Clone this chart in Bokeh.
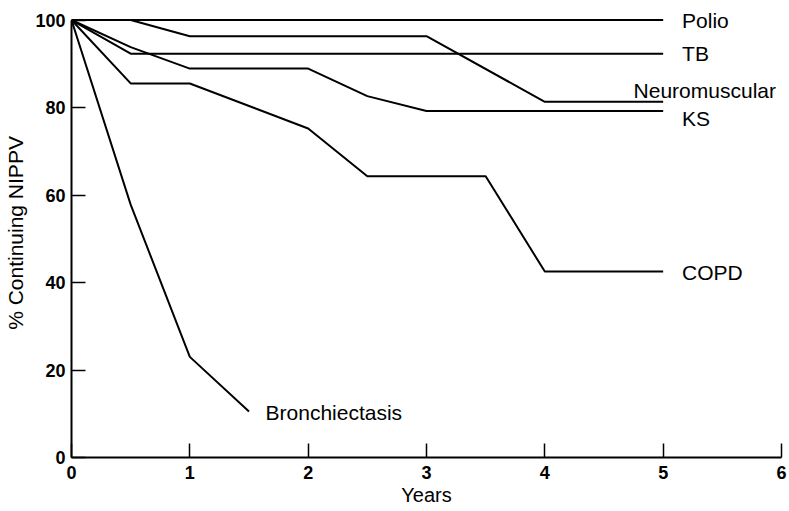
from bokeh.plotting import figure
from bokeh.models import Range1d, FixedTicker, ColumnDataSource, LabelSet
from bokeh.core.properties import value
from bokeh.embed import file_html
from bokeh.resources import INLINE

# ---- data ----
series_names = ["Polio", "TB", "Neuromuscular", "KS", "COPD", "Bronchiectasis"]

polio_years = [0, 5]
polio_pct = [100, 100]

tb_years = [0, 0.5, 5]
tb_pct = [100, 92.3, 92.3]

neuro_years = [0, 0.5, 1, 3, 4, 5]
neuro_pct = [100, 100, 96.3, 96.3, 81.3, 81.3]

ks_years = [0, 0.5, 1, 2, 2.5, 3, 5]
ks_pct = [100, 93.8, 88.9, 88.9, 82.6, 79.2, 79.2]

copd_years = [0, 0.5, 1, 2, 2.5, 3.5, 4, 5]
copd_pct = [100, 85.5, 85.5, 75.2, 64.3, 64.3, 42.5, 42.5]

bronch_years = [0, 0.5, 1, 1.5]
bronch_pct = [100, 57.8, 23.0, 10.5]

x_ticks = [0, 1, 2, 3, 4, 5, 6]
y_ticks = [0, 20, 40, 60, 80, 100]
x_title = "Years"
y_title = "% Continuing NIPPV"

series = {
    "Polio": (polio_years, polio_pct),
    "TB": (tb_years, tb_pct),
    "Neuromuscular": (neuro_years, neuro_pct),
    "KS": (ks_years, ks_pct),
    "COPD": (copd_years, copd_pct),
    "Bronchiectasis": (bronch_years, bronch_pct),
}

# label placement relative to each series' last point (layout, not data)
label_offsets = {
    "Polio": (0.16, 0.0),
    "TB": (0.16, 0.0),
    "Neuromuscular": (-0.25, 2.6),
    "KS": (0.16, -1.8),
    "COPD": (0.16, -0.3),
    "Bronchiectasis": (0.14, -0.3),
}

FONT = "Liberation Sans"

p = figure(width=789, height=511, output_backend="svg", toolbar_location=None,
           x_range=Range1d(0, 6), y_range=Range1d(0, 102.63),
           min_border_left=71, min_border_right=8, min_border_top=8, min_border_bottom=54)
p.outline_line_color = None
p.grid.visible = False
p.background_fill_color = "white"
p.border_fill_color = "white"

for name in series_names:
    xs, ys = series[name]
    p.line(xs, ys, line_color="black", line_width=2)

src = ColumnDataSource(dict(
    x=[series[n][0][-1] + label_offsets[n][0] for n in series_names],
    y=[series[n][1][-1] + label_offsets[n][1] for n in series_names],
    name=series_names,
))
p.add_layout(LabelSet(x="x", y="y", text="name", source=src,
                      text_align="left", text_baseline="middle",
                      text_font=value(FONT), text_font_size=value("21px"),
                      text_color="black"))

for ax in (p.xaxis[0], p.yaxis[0]):
    ax.axis_line_color = "black"
    ax.axis_line_width = 2
    ax.major_tick_line_color = "black"
    ax.major_tick_line_width = 1.5
    ax.major_tick_in = 14
    ax.major_tick_out = 0
    ax.minor_tick_line_color = None
    ax.major_label_text_font = FONT
    ax.major_label_text_font_size = "18px"
    ax.major_label_text_font_style = "bold"
    ax.major_label_text_color = "black"
    ax.axis_label_text_font = FONT
    ax.axis_label_text_font_style = "normal"
    ax.axis_label_text_color = "black"

p.xaxis.ticker = FixedTicker(ticks=x_ticks)
p.yaxis.ticker = FixedTicker(ticks=y_ticks)
p.yaxis.bounds = (0, 100)
p.yaxis.axis_label = y_title
p.yaxis.axis_label_text_font_size = "21px"
p.xaxis.axis_label = x_title
p.xaxis.axis_label_text_font_size = "20px"
p.xaxis.major_label_standoff = 8
p.xaxis.axis_label_standoff = 2
p.yaxis.major_label_standoff = 6
p.yaxis.axis_label_standoff = 5

open("out.html", "w").write(file_html(p, INLINE))
